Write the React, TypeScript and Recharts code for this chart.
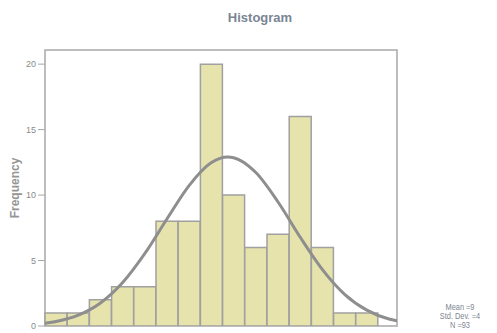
import { ComposedChart, Bar, Line, XAxis, YAxis, ReferenceArea } from "recharts";

// histogram counts, one per bin (N = 93)
const bins = ["1", "2", "3", "4", "5", "6", "7", "8", "9", "10", "11", "12", "13", "14", "15"];
const counts = [1, 1, 2, 3, 3, 8, 8, 20, 10, 6, 7, 16, 6, 1, 1];

// normal curve, x in bin units from the left frame edge
const curveX = [0, 0.5, 1.5, 2.5, 3.5, 4.5, 5.5, 6.5, 7.5, 8.24, 8.5, 9.5, 10.5, 11.5, 12.5, 13.5, 14.5, 15.5, 15.86];
const curveY = [0.21, 0.35, 0.83, 1.76, 3.32, 5.54, 8.19, 10.74, 12.48, 12.9, 12.85, 11.72, 9.47, 6.78, 4.31, 2.42, 1.21, 0.53, 0.39];

const xTicks = [1.43, 3.83, 6.23, 8.63, 11.03, 13.43];
const yTicks = [0, 5, 10, 15, 20];
const X_MAX = 15.86;
const Y_MAX = 21.08;

const barData = bins.map((b, i) => ({ bin: b, count: counts[i] }));
const curveData = curveX.map((x, i) => ({ x, y: curveY[i] }));

export default function App() {
  return (
    <div style={{ position: "absolute", left: 0, top: 0, width: 497, height: 333, background: "#fff", fontFamily: "'Liberation Sans', Arial, sans-serif" }}>
      <div style={{ position: "absolute", left: 0, width: 520, top: 10, textAlign: "center", fontSize: 13, fontWeight: "bold", color: "#7a8594" }}>
        Histogram
      </div>
      <div
        style={{
          position: "absolute",
          left: 15,
          top: 188,
          transform: "translate(-50%, -50%) rotate(-90deg)",
          fontSize: 12,
          fontWeight: "bold",
          color: "#959595",
          whiteSpace: "nowrap",
        }}
      >
        Frequency
      </div>
      <div
        style={{
          position: "absolute",
          left: 419,
          width: 82,
          top: 303,
          textAlign: "center",
          fontSize: 9,
          lineHeight: "9px",
          color: "#7d8591",
          transform: "scaleX(0.82)",
        }}
      >
        <div>Mean =9</div>
        <div>Std. Dev. =4</div>
        <div>N =93</div>
      </div>
      <ComposedChart
        width={497}
        height={333}
        data={barData}
        margin={{ top: 50, right: 100, bottom: 0, left: 0 }}
        barCategoryGap={0}
        barGap={0}
        style={{ position: "absolute", left: 0, top: 0 }}
      >
        <XAxis xAxisId="bins" dataKey="bin" type="category" hide padding={{ left: 0, right: 19 }} />
        <XAxis
          xAxisId="curve"
          dataKey="x"
          type="number"
          domain={[0, X_MAX]}
          allowDataOverflow
          ticks={xTicks}
          tickFormatter={() => ""}
          height={7}
          tickSize={5}
          axisLine={{ stroke: "#a8a8a8" }}
          tickLine={{ stroke: "#a8a8a8" }}
        />
        <YAxis
          domain={[0, Y_MAX]}
          allowDataOverflow
          ticks={yTicks}
          width={45}
          tickSize={7}
          tickMargin={2}
          axisLine={false}
          tickLine={{ stroke: "#a8a8a8" }}
          tick={{ fontSize: 9, fill: "#8a8a8a" }}
        />
        <ReferenceArea xAxisId="curve" x1={0} x2={X_MAX} y1={0} y2={Y_MAX} fill="none" stroke="#a8a8a8" strokeWidth={1.5} />
        <Bar xAxisId="bins" dataKey="count" fill="#e6e3ad" stroke="#a0a0a0" strokeWidth={1.5} isAnimationActive={false} />
        <Line
          xAxisId="curve"
          data={curveData}
          dataKey="y"
          type="monotone"
          stroke="#8e8e8e"
          strokeWidth={3}
          dot={false}
          isAnimationActive={false}
        />
      </ComposedChart>
    </div>
  );
}
